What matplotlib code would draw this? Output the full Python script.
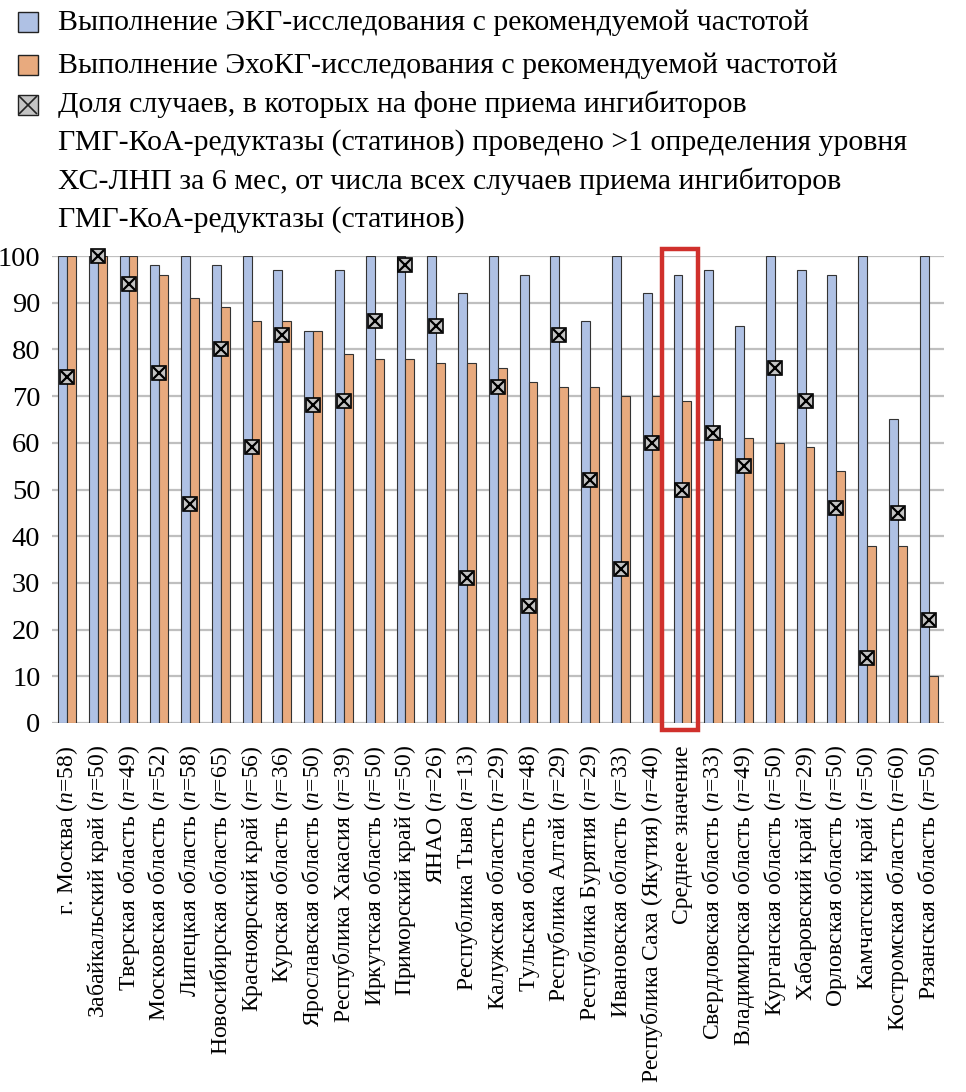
import matplotlib
matplotlib.use("Agg")
import matplotlib.pyplot as plt
from matplotlib.patches import Rectangle
from matplotlib.lines import Line2D
import numpy as np

SERIF = "Liberation Serif"
plt.rcParams['font.family'] = [SERIF, 'DejaVu Serif']
plt.rcParams['mathtext.fontset'] = 'custom'
plt.rcParams['mathtext.rm'] = SERIF
plt.rcParams['mathtext.it'] = SERIF + ':italic'

regions = ["г. Москва", "Забайкальский край", "Тверская область", "Московская область",
           "Липецкая область", "Новосибирская область", "Красноярский край", "Курская область",
           "Ярославская область", "Республика Хакасия", "Иркутская область", "Приморский край",
           "ЯНАО", "Республика Тыва", "Калужская область", "Тульская область",
           "Республика Алтай", "Республика Бурятия", "Ивановская область",
           "Республика Саха (Якутия)", "Среднее значение", "Свердловская область",
           "Владимирская область", "Курганская область", "Хабаровский край",
           "Орловская область", "Камчатский край", "Костромская область", "Рязанская область"]
n_cases = [58, 50, 49, 52, 58, 65, 56, 36, 50, 39, 50, 50, 26, 13, 29, 48, 29, 29, 33, 40,
           None, 33, 49, 50, 29, 50, 50, 60, 50]
ecg = [100, 100, 100, 98, 100, 98, 100, 97, 84, 97, 100, 100, 100, 92, 100, 96, 100, 86, 100, 92,
       96, 97, 85, 100, 97, 96, 100, 65, 100]
echo = [100, 100, 100, 96, 91, 89, 86, 86, 84, 79, 78, 78, 77, 77, 76, 73, 72, 72, 70, 70,
        69, 61, 61, 60, 59, 54, 38, 38, 10]
statins = [74, 100, 94, 75, 47, 80, 59, 83, 68, 69, 86, 98, 85, 31, 72, 25, 83, 52, 33, 60,
           50, 62, 55, 76, 69, 46, 14, 45, 22]

legend_labels = ["Выполнение ЭКГ-исследования с рекомендуемой частотой",
                 "Выполнение ЭхоКГ-исследования с рекомендуемой частотой",
                 "Доля случаев, в которых на фоне приема ингибиторов\n"
                 "ГМГ-КоА-редуктазы (статинов) проведено >1 определения уровня\n"
                 "ХС-ЛНП за 6 мес, от числа всех случаев приема ингибиторов\n"
                 "ГМГ-КоА-редуктазы (статинов)"]

labels = [r if n is None else f"{r} ($\\it{{n}}$={n})" for r, n in zip(regions, n_cases)]

BLUE = "#AFC1E4"
ORANGE = "#E8AA7E"
W, H = 966, 1092
fig = plt.figure(figsize=(W / 100, H / 100), dpi=100)
ax = fig.add_axes([51.6 / W, 1 - 723 / H, (944 - 51.6) / W, (723 - 256) / H])

x = np.arange(len(regions))
bw = 0.29
ax.bar(x - bw / 2, ecg, bw, color=BLUE, edgecolor="#333333", linewidth=0.8, zorder=2)
ax.bar(x + bw / 2, echo, bw, color=ORANGE, edgecolor="#333333", linewidth=0.8, zorder=2)
ax.plot(x, statins, ls="none", marker="s", ms=10.5, mfc="#C4C4C4", mec="black", mew=1.2,
        zorder=4, clip_on=False)
ax.plot(x, statins, ls="none", marker="x", ms=8, mec="black", mew=1.6, zorder=5, clip_on=False)

ax.set_xlim(-0.5, len(regions) - 0.5)
ax.set_ylim(0, 100)
ax.set_yticks(np.arange(0, 101, 10))
ax.set_yticklabels([str(v) for v in range(0, 101, 10)], family=SERIF, fontsize=20.5)
ax.yaxis.grid(True, color="#BFBFBF", lw=1.6, zorder=0)
ax.set_axisbelow(True)
for s in ax.spines.values():
    s.set_visible(False)
ax.tick_params(axis="both", length=0)
ax.tick_params(axis="y", pad=8)
ax.set_xticks(x)
ax.set_xticklabels(labels, rotation=90, fontsize=17, family=SERIF, ha="center", va="top")
ax.tick_params(axis="x", pad=16)

# highlight mean
mi = regions.index("Среднее значение")
ax.add_patch(Rectangle((mi - 0.68, -1.5), 1.17, 103.0, fill=False, edgecolor="#D0302C",
                       lw=3.2, clip_on=False, zorder=6))

# legend (manual)
def fx(px):
    return px / W

def fy(py):
    return 1 - py / H

ys = [23, 66, 106]
fs = 21.5
fig.add_artist(Rectangle((fx(18), fy(32)), 20 / W, 20 / H, transform=fig.transFigure,
                         facecolor=BLUE, edgecolor="#222222", lw=1))
fig.add_artist(Rectangle((fx(18), fy(75)), 20 / W, 20 / H, transform=fig.transFigure,
                         facecolor=ORANGE, edgecolor="#222222", lw=1))
fig.add_artist(Line2D([fx(28)], [fy(105)], marker="s", ms=14, mfc="#C4C4C4", mec="#222222",
                      mew=1, transform=fig.transFigure))
fig.add_artist(Line2D([fx(28)], [fy(105)], marker="x", ms=13, mec="#222222", mew=1.2,
                      transform=fig.transFigure))
fig.text(fx(58), fy(ys[0]), legend_labels[0], fontsize=fs, family=SERIF, va="center", ha="left")
fig.text(fx(58), fy(ys[1]), legend_labels[1], fontsize=fs, family=SERIF, va="center", ha="left")
fig.text(fx(58), fy(ys[2] - 16), legend_labels[2], fontsize=fs, family=SERIF, va="top", ha="left",
         linespacing=1.54)

fig.savefig("out.png", dpi=100)
